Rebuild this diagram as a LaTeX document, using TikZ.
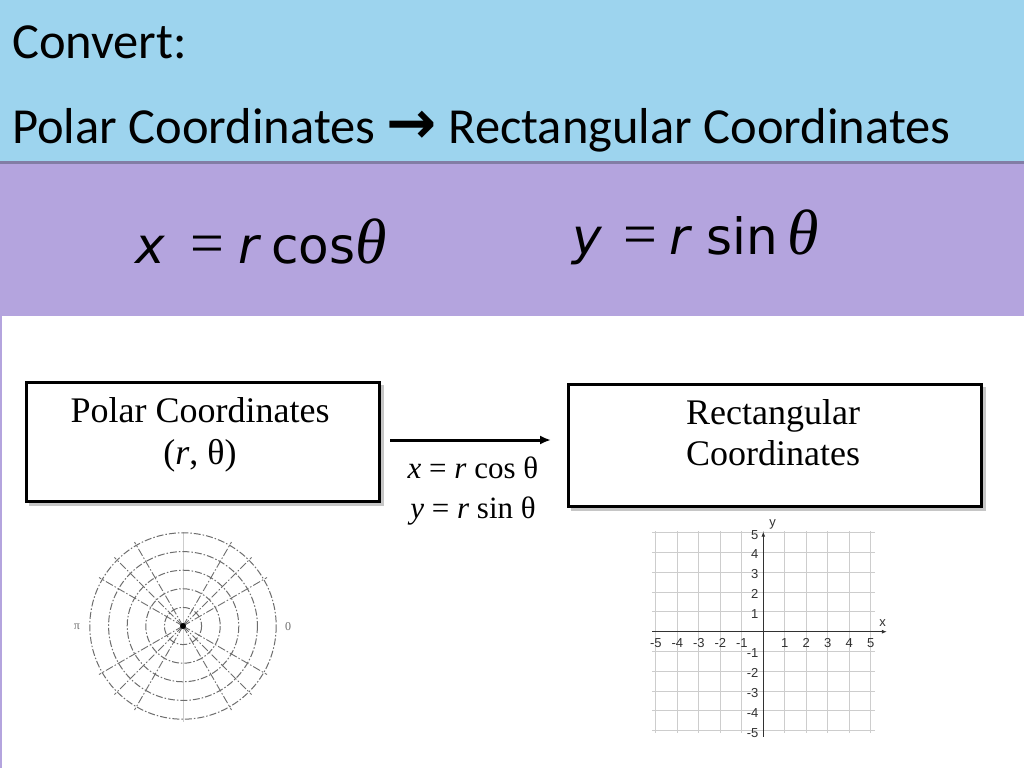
\documentclass[tikz,border=0pt]{standalone}
\usepackage{fontspec}
\setmainfont{Liberation Serif}
\newfontfamily\titlefont{Carlito}
\newfontfamily\eqfont{DejaVu Sans}
\newfontfamily\symfont{DejaVu Sans}
\newfontfamily\axfont{Liberation Sans}
\usetikzlibrary{arrows.meta}
\definecolor{bandblue}{RGB}{157,212,238}
\definecolor{bandpurple}{RGB}{180,164,222}
\definecolor{bandshadow}{RGB}{130,125,165}
\definecolor{gridgray}{RGB}{205,205,205}
\definecolor{polgray}{RGB}{110,110,110}
\definecolor{ticktext}{RGB}{50,50,50}
\tikzset{
  titletext/.style={anchor=base west, inner sep=0pt, font=\titlefont\fontsize{50.5}{60}\selectfont},
  eqtext/.style={anchor=base west, inner sep=0pt, font=\fontsize{50}{60}\selectfont},
  boxnode/.style={draw=black, line width=3pt, fill=white},
  boxtext/.style={anchor=base, inner sep=0pt, font=\fontsize{36}{40}\selectfont},
  lbltext/.style={anchor=base, inner sep=0pt, font=\fontsize{31}{35}\selectfont},
  convarrow/.style={line width=3pt, -{Latex[length=11pt,width=9pt]}},
  pcircle/.style={draw=polgray, line width=1pt, dash pattern=on 7pt off 2pt on 1.5pt off 2pt},
  pray/.style={draw=polgray, line width=0.9pt, dash pattern=on 8pt off 2pt on 1.5pt off 2pt},
  pvert/.style={draw=gridgray, line width=1pt},
  plabel/.style={inner sep=0pt, font=\fontsize{12}{12}\selectfont, text=polgray},
  gridline/.style={draw=gridgray, line width=1pt},
  axisline/.style={draw=ticktext, line width=1pt, -{Latex[length=5pt,width=4pt]}},
  ticklbl/.style={inner sep=0pt, font=\axfont\fontsize{13}{13}\selectfont, text=ticktext}
}
\newcommand{\eqsign}{{\fontsize{60}{60}\selectfont =}}
\newcommand{\bigtheta}{{\fontsize{64}{64}\selectfont\itshape θ}}
\begin{document}
\begin{tikzpicture}[x=1pt,y=-1pt]
\useasboundingbox (0,0) rectangle (1024,768);
% background bands
\fill[white] (0,0) rectangle (1024,768);
\fill[bandblue] (0,0) rectangle (1024,161);
\fill[bandshadow] (0,161) rectangle (1024,164);
\fill[bandpurple] (0,164) rectangle (1024,316);
\fill[bandpurple] (0,316) rectangle (2,768);

% title
\node[titletext] (convert) at (12,59) {Convert:};
\node[titletext] (title) at (12,143) {Polar Coordinates {\symfont\bfseries\fontsize{60}{60}\selectfont →} Rectangular Coordinates};

% formulas in the purple band
\node[eqtext] (eqx) at (135,263) {{\eqfont\itshape x}\hspace{26pt}\eqsign\hspace{14pt}{\eqfont\itshape r}\hspace{12pt}{\eqfont cos}\bigtheta};
\node[eqtext] (eqy) at (572,254) {{\eqfont\itshape y}\hspace{22pt}\eqsign\hspace{12pt}{\eqfont\itshape r}\hspace{16pt}{\eqfont sin}\hspace{10pt}\bigtheta};

% boxes (with faint drop shadow)
\fill[gray!45] (29,385) rectangle (384,506);
\fill[gray!45] (571,387) rectangle (986,511);
\node[boxnode, minimum width=353pt, minimum height=119pt] (polar) at (203,442) {};
\node[boxnode, minimum width=413pt, minimum height=122pt] (rect) at (775,445.5) {};
\node[boxtext] (pt1) at (200,422) {Polar Coordinates};
\node[boxtext] (pt2) at (200,464) {(\textit{r}, θ)};
\node[boxtext] (rt1) at (773,424) {Rectangular};
\node[boxtext] (rt2) at (773,465) {Coordinates};

% conversion arrow and its labels
\draw[convarrow] ([xshift=9pt,yshift=2pt]polar.east) -- ([xshift=-16pt,yshift=2pt]polar.east -| rect.west);
\node[lbltext] (lx) at (473,478) {\textit{x} = \textit{r} cos θ};
\node[lbltext] (ly) at (473,518) {\textit{y} = \textit{r} sin θ};

% polar grid
\coordinate (pc) at (183,626);
\draw[pvert] (pc) ++(0,-94) -- ++(0,190);
\foreach \r in {18.6,37.2,55.8,74.4,93.2} \draw[pcircle] (pc) circle (\r);
\foreach \a in {30,45,60,120,135,150,210,225,240,300,315,330} \draw[pray] (pc) -- ++(\a:97);
\fill[black] (pc) circle (3);
\node[plabel] (pi) at (77,627) {π};
\node[plabel] (zero) at (288,627) {0};

% rectangular grid
\begin{scope}[shift={(763.3,631.7)}, x=21.5pt, y=19.8pt]
  \foreach \i in {-5,...,5} {
    \draw[gridline] (\i,-5.1) -- (\i,5.1);
    \draw[gridline] (-5.17,\i) -- (5.2,\i);
  }
  \coordinate (xs) at (-5.17,0);
  \coordinate (xe) at (5.75,0);
  \coordinate (ys) at (0,-5.3);
  \coordinate (ye) at (0,5.05);
  \draw[axisline] (xs) -- (xe);
  \draw[axisline] (ys) -- (ye);
  \node[ticklbl] (xl) at (5.55,0.45) {x};
  \node[ticklbl] (yl) at (0.43,5.4) {y};
  \foreach \i in {-5,-4,-3,-2,-1,1,2,3,4,5} {
    \node[ticklbl] at (\i,-0.58) {\i};
    \node[ticklbl, anchor=east] at (-0.22,\i-0.1) {\i};
  }
\end{scope}
\end{tikzpicture}
\end{document}
